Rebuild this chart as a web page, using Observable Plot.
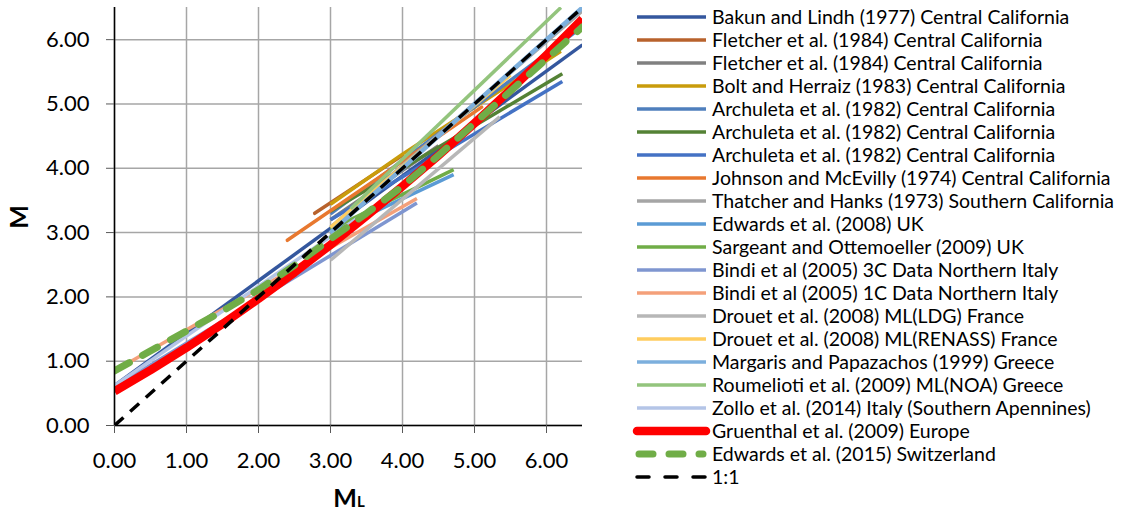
<!DOCTYPE html>
<html>
<head>
<meta charset="utf-8">
<script src="https://cdn.jsdelivr.net/npm/d3@7"></script>
<script src="https://cdn.jsdelivr.net/npm/@observablehq/plot@0.6"></script>
<style>
  html, body { margin: 0; padding: 0; background: #fff; }
  #wrap { position: relative; width: 1125px; height: 516px; overflow: hidden; }
  #chart { position: absolute; left: 0; top: 0; }
  #legend { position: absolute; left: 0; top: 0; }
</style>
</head>
<body>
<div id="wrap"><div id="chart"></div><div id="legend"></div></div>
<script>
// ---- data (ML, M) ----
const bakunLindh1977   = [[0, 0.62], [6.5, 5.92]];
const fletcher1984a    = [[2.78, 3.30], [4.0, 4.20]];
const fletcher1984b    = [[3.0, 3.20], [4.5, 4.35]];
const boltHerraiz1983  = [[3.0, 3.44], [4.0, 4.22], [5.0, 4.95], [6.2, 5.82]];
const archuleta1982a   = [[3.0, 3.29], [6.5, 6.20]];
const archuleta1982b   = [[3.0, 3.33], [6.22, 5.47]];
const archuleta1982c   = [[3.0, 3.20], [6.22, 5.35]];
const johnsonMcEvilly  = [[2.4, 2.88], [5.1, 4.95]];
const thatcherHanks    = [[3.0, 3.08], [6.5, 6.45]];
const edwards2008      = [[3.0, 3.00], [4.71, 3.90]];
const sargeant2009     = [[3.0, 3.05], [4.71, 3.98]];
const bindi3C          = [[0, 0.60], [4.2, 3.46]];
const bindi1C          = [[0, 0.85], [4.2, 3.53]];
const drouetLDG        = [[3.0, 2.57], [5.35, 4.80]];
const drouetRENASS     = [[3.0, 3.08], [5.5, 5.45]];
const margaris1999     = [[3.0, 3.00], [6.5, 6.50]];
const roumelioti2009   = [[3.28, 3.37], [6.2, 6.50]];
const zollo2014        = [[0, 0.62], [3.6, 3.40]];
const gruenthal2009    = [[0, 0.53], [0.5, 0.86], [1, 1.21], [1.5, 1.58], [2, 1.97], [2.5, 2.38], [3, 2.81], [3.5, 3.26], [4, 3.72], [4.5, 4.20], [5, 4.70], [5.5, 5.22], [6, 5.76], [6.5, 6.32]];
const edwards2015      = [[0, 0.85], [0.5, 1.16], [1, 1.47], [1.5, 1.78], [2, 2.11], [2.5, 2.49], [3, 2.90], [3.5, 3.30], [4, 3.72], [4.5, 4.20], [5, 4.70], [5.5, 5.20], [6, 5.70], [6.5, 6.20]];
const oneToOne         = [[0, 0], [6.5, 6.5]];

const tickValues = [0, 1, 2, 3, 4, 5, 6];

const seriesNames = [
  "Bakun and Lindh (1977) Central California",
  "Fletcher et al. (1984) Central California",
  "Fletcher et al. (1984) Central California",
  "Bolt and Herraiz (1983) Central California",
  "Archuleta et al. (1982) Central California",
  "Archuleta et al. (1982) Central California",
  "Archuleta et al. (1982) Central California",
  "Johnson and McEvilly (1974) Central California",
  "Thatcher and Hanks (1973) Southern California",
  "Edwards et al. (2008) UK",
  "Sargeant and Ottemoeller (2009) UK",
  "Bindi et al (2005) 3C Data Northern Italy",
  "Bindi et al (2005) 1C Data Northern Italy",
  "Drouet et al. (2008) ML(LDG) France",
  "Drouet et al. (2008) ML(RENASS) France",
  "Margaris and Papazachos (1999) Greece",
  "Roumelioti et al. (2009) ML(NOA) Greece",
  "Zollo et al. (2014) Italy (Southern Apennines)",
  "Gruenthal et al. (2009) Europe",
  "Edwards et al. (2015) Switzerland",
  "1:1"
];
const seriesData = [
  bakunLindh1977, fletcher1984a, fletcher1984b, boltHerraiz1983,
  archuleta1982a, archuleta1982b, archuleta1982c, johnsonMcEvilly,
  thatcherHanks, edwards2008, sargeant2009, bindi3C, bindi1C,
  drouetLDG, drouetRENASS, margaris1999, roumelioti2009, zollo2014,
  gruenthal2009, edwards2015, oneToOne
];
// ---- styles ----
const seriesColors = [
  "#34579e", "#b8622c", "#808080", "#c99c0c",
  "#4f7fbd", "#548235", "#4472c4", "#e8782f",
  "#a5a5a5", "#5b9bd5", "#70ad47", "#7f96d0", "#f4a07a",
  "#b7b7b7", "#ffcd5f", "#7cafdd", "#93c47d", "#b4c5e7",
  "#ff0000", "#70ad47", "#000000"
];
const seriesWidths = [3.5,3.5,3.5,3.5, 3.5,3.5,3.5,3.5, 3.5,3.5,3.5,3.5,3.5, 3.5,3.5,4.5,3.5,3.5, 8.5,7,3.5];
const seriesDash   = [null,null,null,null, null,null,null,null, null,null,null,null,null, null,null,null,null,null, null,"17,15","12,9"];
const seriesCaps   = ["butt","round","butt","butt","butt","butt","butt","round","butt","butt","butt","butt","butt","butt","butt","butt","butt","butt","butt","round","butt"];

const rows = [];
seriesData.forEach((arr, i) => arr.forEach(([x, y]) => rows.push({s: i, x, y})));

const lineMarks = seriesData.map((arr, i) =>
  Plot.line(rows.filter(d => d.s === i), {
    x: "x", y: "y",
    stroke: seriesColors[i],
    strokeWidth: seriesWidths[i],
    strokeDasharray: seriesDash[i] || undefined,
    strokeLinecap: seriesCaps[i],
    clip: true
  })
);

const fmt = d => d.toFixed(2);

const chart = Plot.plot({
  width: 600,
  height: 516,
  marginLeft: 114,
  marginRight: 18,
  marginTop: 7,
  marginBottom: 91,
  style: { fontFamily: "Lato, 'Open Sans', sans-serif", fontSize: "22px", color: "#000", background: "#fff" },
  x: { domain: [0, 6.5] },
  y: { domain: [0, 6.5] },
  marks: [
    Plot.gridX(tickValues, { stroke: "#a6a6a6", strokeOpacity: 1, strokeWidth: 1.5 }),
    Plot.gridY(tickValues, { stroke: "#a6a6a6", strokeOpacity: 1, strokeWidth: 1.5 }),
    ...lineMarks,
    Plot.ruleX([0], { stroke: "#000", strokeWidth: 1.5 }),
    Plot.ruleY([0], { stroke: "#000", strokeWidth: 1.5 }),
    Plot.axisX(tickValues, { tickFormat: fmt, tickSize: 8, tickPadding: 19, label: null, stroke: "#595959", fill: "#000", fontSize: 22 }),
    Plot.axisY(tickValues, { tickFormat: fmt, tickSize: 8, tickPadding: 17, label: null, stroke: "#595959", fill: "#000", fontSize: 22 })
  ]
});
document.getElementById("chart").appendChild(chart);

// axis titles
const svg = d3.select(chart);
svg.append("text")
  .attr("transform", "translate(28,217) rotate(-90)")
  .attr("text-anchor", "middle")
  .attr("font-family", "Lato, sans-serif")
  .attr("font-weight", "bold")
  .attr("font-size", 25)
  .attr("fill", "#000")
  .text("M");
const xl = svg.append("text")
  .attr("x", 349).attr("y", 507)
  .attr("text-anchor", "middle")
  .attr("font-family", "Lato, sans-serif")
  .attr("font-weight", "bold")
  .attr("font-size", 25)
  .attr("fill", "#000");
xl.append("tspan").text("M");
xl.append("tspan").attr("font-size", 15).text("L");

// legend
const lg = d3.select("#legend").append("svg")
  .attr("width", 1125).attr("height", 516)
  .style("font-family", "Lato, sans-serif");
seriesNames.forEach((name, i) => {
  const cy = 17 + 23 * i;
  const g = lg.append("g");
  g.append("line")
    .attr("x1", seriesCaps[i] === "round" && seriesDash[i] ? 639 : 637)
    .attr("x2", seriesCaps[i] === "round" && seriesDash[i] ? 703 : 706)
    .attr("y1", cy).attr("y2", cy)
    .attr("stroke", seriesColors[i])
    .attr("stroke-width", seriesWidths[i] > 4.5 ? seriesWidths[i] : 3.5)
    .attr("stroke-linecap", seriesDash[i] ? "round" : (seriesWidths[i] > 4.5 ? "round" : "butt"))
    .attr("stroke-dasharray", i === 19 ? "14,16" : (i === 20 ? "12,16" : null));
  g.append("text")
    .attr("x", 712).attr("y", cy)
    .attr("dy", "0.36em")
    .attr("font-size", 19.5)
    .attr("fill", "#000")
    .text(name);
});
</script>
</body>
</html>
